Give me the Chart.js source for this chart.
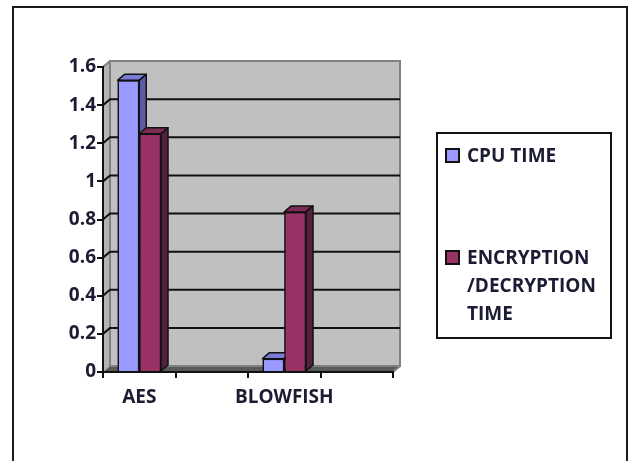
<!DOCTYPE html>
<html>
<head>
<meta charset="utf-8">
<script src="https://cdn.jsdelivr.net/npm/chart.js@4.4.1/dist/chart.umd.min.js"></script>
<style>
  html, body { margin: 0; padding: 0; background: #fff; }
  #wrap { position: relative; width: 634px; height: 461px; overflow: hidden; }
  #frame { position: absolute; left: 12px; top: 6px; width: 616px; height: 470px; border: 2px solid #1a1a1a; box-sizing: border-box; }
  canvas { position: absolute; left: 0; top: 0; }
  #legend { position: absolute; left: 436px; top: 132px; width: 176px; height: 207px; border: 2px solid #111; box-sizing: border-box;
            font-family: "Open Sans", sans-serif; font-weight: 700; font-size: 19px; color: #1b1b33; }
  .item { position: absolute; left: 7px; display: flex; align-items: flex-start; }
  .sw { width: 11px; height: 11px; border: 2px solid #111; margin-top: 7px; margin-right: 7px; flex: none; }
  .txt { line-height: 28px; white-space: nowrap; }
</style>
</head>
<body>
<div id="wrap">
  <div id="frame"></div>
  <canvas id="c" width="634" height="461"></canvas>
  <div id="legend"></div>
</div>
<script>
// Categories (two unlabelled slots keep the 3D floor's spacing)
const categories = ['AES', '', 'BLOWFISH', ''];
const seriesNames = ['CPU TIME', ['ENCRYPTION', '/DECRYPTION', 'TIME']];
const cpuTime = [1.53, null, 0.07, null];
const encDecTime = [1.25, null, 0.84, null];
const yTicks = [0, 0.2, 0.4, 0.6, 0.8, 1, 1.2, 1.4, 1.6];

const frontColors = ['#9999ff', '#993366'];
const topColors = ['#7b7bd6', '#7d2a55'];
const sideColors = ['#5c5ca6', '#55203c'];

// depth offset of the pseudo-3D wall and bars
const DX = 7, DY = -6;

function drawFaces(chart, i) {
  const { ctx } = chart;
  const meta = chart.getDatasetMeta(i);
  ctx.save();
  ctx.strokeStyle = '#111'; ctx.lineWidth = 1.5; ctx.lineJoin = 'round';
  meta.data.forEach((bar, j) => {
    if (chart.data.datasets[i].data[j] == null) return;
    const { x, y, width, base } = bar.getProps(['x', 'y', 'width', 'base'], true);
    const l = x - width / 2, r = x + width / 2;
    // top face
    ctx.beginPath();
    ctx.moveTo(l, y); ctx.lineTo(l + DX, y + DY); ctx.lineTo(r + DX, y + DY); ctx.lineTo(r, y);
    ctx.closePath(); ctx.fillStyle = topColors[i]; ctx.fill(); ctx.stroke();
    // side face
    ctx.beginPath();
    ctx.moveTo(r, y); ctx.lineTo(r + DX, y + DY); ctx.lineTo(r + DX, base + DY); ctx.lineTo(r, base);
    ctx.closePath(); ctx.fillStyle = sideColors[i]; ctx.fill(); ctx.stroke();
  });
  ctx.restore();
}

const wallPlugin = {
  id: 'wall',
  beforeDraw(chart) {
    const { ctx, chartArea: a, scales: { y } } = chart;
    ctx.save();
    // back wall
    ctx.fillStyle = '#c0c0c0';
    ctx.fillRect(a.left + DX, a.top + DY, a.right - a.left, a.bottom - a.top);
    // left side wall
    ctx.beginPath();
    ctx.moveTo(a.left, a.top); ctx.lineTo(a.left + DX, a.top + DY);
    ctx.lineTo(a.left + DX, a.bottom + DY); ctx.lineTo(a.left, a.bottom);
    ctx.closePath(); ctx.fillStyle = '#b4b4b4'; ctx.fill();
    // floor
    ctx.beginPath();
    ctx.moveTo(a.left, a.bottom); ctx.lineTo(a.left + DX, a.bottom + DY);
    ctx.lineTo(a.right + DX, a.bottom + DY); ctx.lineTo(a.right, a.bottom);
    ctx.closePath(); ctx.fillStyle = '#5a5a5a'; ctx.fill();
    // wall outline
    ctx.strokeStyle = '#808080'; ctx.lineWidth = 2;
    ctx.strokeRect(a.left + DX, a.top + DY, a.right - a.left, a.bottom - a.top);
    ctx.beginPath();
    ctx.moveTo(a.left, a.top); ctx.lineTo(a.left + DX, a.top + DY);
    ctx.moveTo(a.right, a.bottom); ctx.lineTo(a.right + DX, a.bottom + DY);
    ctx.stroke();
    // gridlines on the wall
    ctx.strokeStyle = '#111'; ctx.lineWidth = 2;
    yTicks.forEach(v => {
      if (v === 0 || v === 1.6) return;
      const py = y.getPixelForValue(v);
      ctx.beginPath();
      ctx.moveTo(a.left, py);
      ctx.lineTo(a.left + DX, py + DY);
      ctx.lineTo(a.right + DX, py + DY);
      ctx.stroke();
    });
    ctx.restore();
  },
  // redraw the series front to back so each bar hides the one behind it
  afterDatasetsDraw(chart) {
    const { ctx } = chart;
    chart.data.datasets.forEach((ds, i) => {
      chart.getDatasetMeta(i).data.forEach((bar, j) => {
        if (ds.data[j] != null) bar.draw(ctx);
      });
      drawFaces(chart, i);
    });
  }
};

const font = { family: '"Open Sans", sans-serif', weight: '700', size: 19 };

new Chart(document.getElementById('c'), {
  type: 'bar',
  data: {
    labels: categories,
    datasets: [
      { label: 'CPU TIME', data: cpuTime, backgroundColor: frontColors[0], borderColor: '#111', borderWidth: 1.5 },
      { label: 'ENCRYPTION /DECRYPTION TIME', data: encDecTime, backgroundColor: frontColors[1], borderColor: '#111', borderWidth: 1.5 }
    ]
  },
  options: {
    responsive: false,
    animation: false,
    layout: { padding: { top: 67, right: 241, bottom: 0, left: 0 } },
    datasets: { bar: { categoryPercentage: 0.6, barPercentage: 1, skipNull: false } },
    plugins: { legend: { display: false }, tooltip: { enabled: false } },
    scales: {
      x: {
        afterFit(s) { s.height = 89; },
        grid: { offset: true, drawOnChartArea: false, drawTicks: true, tickLength: 6, color: '#111', lineWidth: 2 },
        border: { display: true, color: '#111', width: 2 },
        ticks: { font, color: '#1b1b33', padding: 8, maxRotation: 0, minRotation: 0, autoSkip: false }
      },
      y: {
        min: 0, max: 1.6,
        afterFit(s) { s.width = 103; },
        afterBuildTicks(s) { s.ticks = yTicks.map(v => ({ value: v })); },
        grid: { drawOnChartArea: false, drawTicks: true, tickLength: 6, color: '#111', lineWidth: 2 },
        border: { display: true, color: '#111', width: 2 },
        ticks: { font, color: '#1b1b33', padding: 1, callback: v => String(+v.toFixed(1)) }
      }
    }
  },
  plugins: [wallPlugin]
});

// legend
const legend = document.getElementById('legend');
const tops = [7, 109];
seriesNames.forEach((name, i) => {
  const item = document.createElement('div');
  item.className = 'item';
  item.style.top = tops[i] + 'px';
  const sw = document.createElement('div');
  sw.className = 'sw';
  sw.style.background = frontColors[i];
  const txt = document.createElement('div');
  txt.className = 'txt';
  (Array.isArray(name) ? name : [name]).forEach(line => {
    const d = document.createElement('div');
    d.textContent = line;
    txt.appendChild(d);
  });
  item.appendChild(sw); item.appendChild(txt);
  legend.appendChild(item);
});
</script>
</body>
</html>
